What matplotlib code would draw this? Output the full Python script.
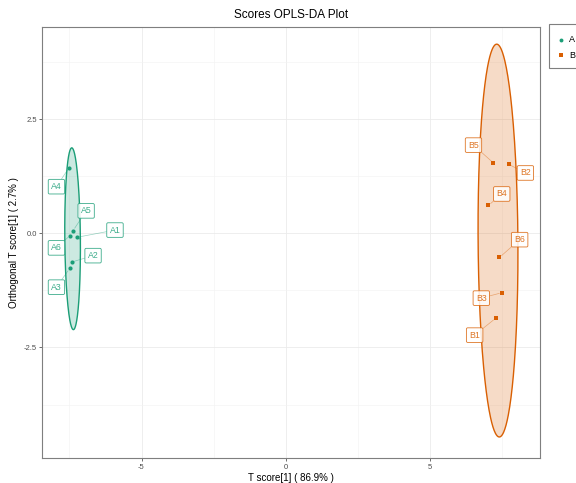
import matplotlib.pyplot as plt
import numpy as np
from matplotlib.lines import Line2D
from matplotlib.patches import Rectangle

plt.rcParams['font.family'] = ['Liberation Sans', 'DejaVu Sans']

# sample scores (predictive T score, orthogonal T score)
names_a = ['A1', 'A2', 'A3', 'A4', 'A5', 'A6']
t1_a = [-7.25, -7.42, -7.49, -7.52, -7.37, -7.48]
to_a = [-0.09, -0.63, -0.77, 1.43, 0.06, -0.05]
# label positions for group A
lx_a = [-5.92, -6.68, -7.95, -7.95, -6.92, -7.95]
ly_a = [0.07, -0.49, -1.18, 1.02, 0.49, -0.32]

names_b = ['B1', 'B2', 'B3', 'B4', 'B5', 'B6']
t1_b = [7.28, 7.73, 7.50, 7.03, 7.20, 7.41]
to_b = [-1.86, 1.51, -1.30, 0.61, 1.54, -0.53]
lx_b = [6.55, 8.31, 6.78, 7.49, 6.51, 8.11]
ly_b = [-2.23, 1.32, -1.42, 0.86, 1.93, -0.14]

# confidence ellipse per group: centre x, centre y, half width, half height, lean
ell_cx = [-7.39, 7.36]
ell_cy = [-0.12, -0.16]
ell_rx = [0.27, 0.69]
ell_ry = [1.99, 4.30]
ell_k = [0.028, 0.045]

groups = ['A', 'B']
colors = ['#1B9E77', '#D95F02']

W, H = 576, 483
fig = plt.figure(figsize=(W / 100, H / 100), dpi=100)
ax = fig.add_axes([42.3 / W, 1 - 458 / H, (540.4 - 42.3) / W, (458 - 26.8) / H])

# ellipses
t = np.linspace(0, 2 * np.pi, 300)
for i in range(2):
    ex = ell_cx[i] + ell_rx[i] * np.cos(t) - ell_k[i] * np.sin(t)
    ey = ell_cy[i] + ell_ry[i] * np.sin(t)
    ax.fill(ex, ey, color=colors[i], alpha=0.22, lw=0, zorder=2)
    ax.plot(ex, ey, color=colors[i], lw=1.0, zorder=3)

data = [(names_a, t1_a, to_a, lx_a, ly_a, 'o'),
        (names_b, t1_b, to_b, lx_b, ly_b, 's')]

for i, (nm, xs, ys, lxs, lys, mk) in enumerate(data):
    ax.scatter(xs, ys, marker=mk, s=9, color=colors[i], lw=0, zorder=5)
    for n, x, y, lx, ly in zip(nm, xs, ys, lxs, lys):
        ax.annotate(n, xy=(x, y), xytext=(lx, ly), fontsize=6.3,
                    color=colors[i], alpha=0.85, ha='center', va='center',
                    bbox=dict(boxstyle='round,pad=0.32,rounding_size=0.15',
                              fc='white', ec=colors[i], lw=0.6, alpha=0.85),
                    arrowprops=dict(arrowstyle='-', color=colors[i], lw=0.5,
                                    alpha=0.45, shrinkA=0, shrinkB=2),
                    zorder=6)

ax.set_xlim(-8.44, 8.83)
ax.set_ylim(-4.92, 4.52)
ax.set_xticks([-5, 0, 5])
ax.set_xticklabels(['-5', '0', '5'])
ax.set_yticks([-2.5, 0.0, 2.5])
ax.set_yticklabels(['-2.5', '0.0', '2.5'])
ax.set_xticks([-7.5, -2.5, 2.5, 7.5], minor=True)
ax.set_yticks([-3.75, -1.25, 1.25, 3.75], minor=True)
ax.grid(True, which='major', color='#EBEBEB', lw=0.6, zorder=0)
ax.grid(True, which='minor', color='#F2F2F2', lw=0.4, zorder=0)
ax.set_axisbelow(True)
ax.tick_params(axis='both', which='major', labelsize=5.5, labelcolor='#4D4D4D',
               color='#333333', length=2.5, width=0.5, pad=1.5)
ax.tick_params(axis='both', which='minor', length=0)
for s in ax.spines.values():
    s.set_color('#7F7F7F')
    s.set_linewidth(0.8)

ax.set_xlabel('T score[1] ( 86.9% )', fontsize=7, labelpad=1.5)
ax.set_ylabel('Orthogonal T score[1] ( 2.7% )', fontsize=7, labelpad=3)
ax.set_title('Scores OPLS-DA Plot', fontsize=8.5, pad=6)

# legend box at the right edge
fig.add_artist(Rectangle((549 / W, 1 - 68 / H), 40 / W, 44 / H,
                         transform=fig.transFigure, fc='white',
                         ec='#7F7F7F', lw=0.8, clip_on=False))
markers = ['o', 's']
for i, g in enumerate(groups):
    yy = 1 - (40 + 15 * i) / H
    fig.add_artist(Line2D([561 / W], [yy], ls='none', marker=markers[i],
                          ms=2.8, color=colors[i], mew=0,
                          transform=fig.transFigure))
    fig.text(569 / W, yy, g, fontsize=6.5, va='center', ha='left')

fig.savefig('out.png', dpi=100)
